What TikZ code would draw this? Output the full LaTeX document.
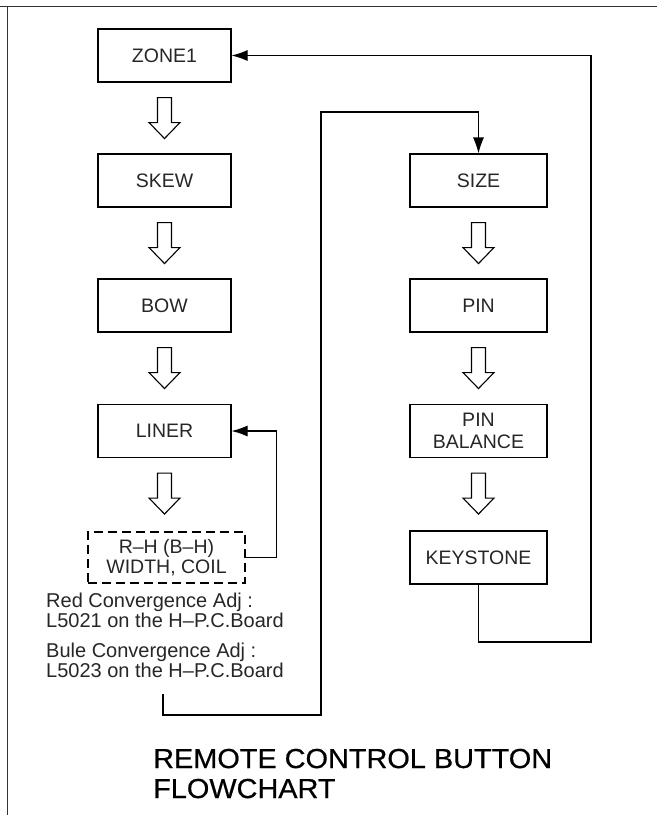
\documentclass[tikz,border=0pt]{standalone}
\usepackage{fontspec}
\setmainfont{Liberation Sans}
\newfontfamily\ttlfam[FakeStretch=1.05,FakeBold=0.6]{Liberation Sans}
\usetikzlibrary{arrows.meta,calc}
\newcommand{\bxfont}{\fontsize{19.5}{21}\selectfont}
\newcommand{\ntfont}{\fontsize{20}{20}\selectfont}
\newcommand{\ttlfont}{\ttlfam\fontsize{27.5}{30}\selectfont}
\newcommand{\holarrow}[1]{\draw[hollow] ($(#1.south)+(-7,15)$) -- ++(0,25) -- ++(-8.5,0) -- ++(15.5,16) -- ++(15.5,-16) -- ++(-8.5,0) -- ++(0,-25) -- cycle;}
\tikzset{
  box/.style={draw, line width=1.1pt, minimum height=53pt, inner sep=0pt, align=center, font=\bxfont, text=black!85},
  lbox/.style={box, minimum width=133pt},
  rbox/.style={box, minimum width=137pt},
  dbox/.style={box, minimum width=157pt, minimum height=51pt, dash pattern=on 9pt off 5pt},
  conn/.style={line width=1.1pt},
  arr/.style={conn, -{Latex[length=16pt,width=11pt]}},
  hollow/.style={draw, line width=1.1pt, fill=white, line join=miter},
  note/.style={anchor=base west, inner sep=0pt, font=\ntfont, text=black!85},
  ttl/.style={anchor=base west, inner sep=0pt, font=\ttlfont, text=black},
}
\begin{document}
\begin{tikzpicture}[x=1pt, y=-1pt]
\useasboundingbox (0,0) rectangle (657,815);
% frame
\draw[line width=1pt, black!80] (0,6.5) -- (657,6.5);
\draw[line width=1pt, black!80] (7,6.5) -- (7,815);
% left column
\node[lbox] (zone) at (164.5,55.5) {ZONE1};
\node[lbox] (skew) at (164.5,180.5) {SKEW};
\node[lbox] (bow) at (164.5,305.5) {BOW};
\node[lbox] (liner) at (164.5,431) {LINER};
\node[dbox, font=\fontsize{19.5}{19.5}\selectfont] (rh) at (166.5,557.5) {R–H (B–H)\\WIDTH, COIL};
% right column
\node[rbox] (size) at (478.5,180.5) {SIZE};
\node[rbox] (pin) at (478.5,305.5) {PIN};
\node[rbox, font=\fontsize{19.5}{22}\selectfont] (pinb) at (478.5,431) {PIN\\BALANCE};
\node[rbox] (key) at (478.5,557.5) {KEYSTONE};
% hollow arrows
\holarrow{zone}
\holarrow{skew}
\holarrow{bow}
\holarrow{liner}
\holarrow{size}
\holarrow{pin}
\holarrow{pinb}
% notes
\node[note] (n1) at (46,607) {Red Convergence Adj :};
\node[note] (n2) at (46,627) {L5021 on the H–P.C.Board};
\node[note] (n3) at (46,657) {Bule Convergence Adj :};
\node[note] (n4) at (46,677) {L5023 on the H–P.C.Board};
% title
\node[ttl] (t1) at (153,768) {REMOTE CONTROL BUTTON};
\node[ttl] (t2) at (153,798) {FLOWCHART};
% connectors
\draw[arr] (rh.east) -- ++(31,0) |- (liner.east);
\coordinate (ls) at (163,694);
\coordinate (lb) at (163,715);
\coordinate (lt) at (321,112);
\draw[arr] (ls) -- (lb) -| (lt) -| (size.north);
\coordinate (kb) at (591,642);
\draw[arr] (key.south) |- (kb) |- (zone.east);
\end{tikzpicture}
\end{document}
